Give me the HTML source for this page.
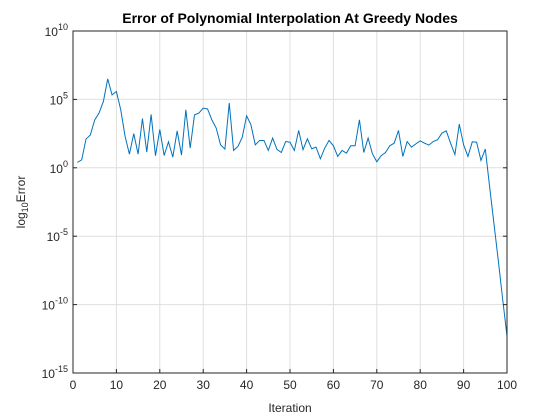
<!DOCTYPE html>
<html><head><meta charset="utf-8"><style>
body{margin:0;background:#fff;}
svg{display:block;font-family:"Liberation Sans",Arial,sans-serif;}
</style></head><body>
<svg id="chart" width="560" height="420">
<rect x="0" y="0" width="560" height="420" fill="#fff"/>
<rect x="73" y="31" width="434" height="342" fill="#fff"/>
<g id="grid"></g>
<g id="series"></g>
<rect x="73" y="31" width="434" height="342" fill="none" stroke="#262626" stroke-width="1"/>
<g id="ticks"></g>
<text x="290" y="23" text-anchor="middle" font-size="14" font-weight="bold" fill="#000">Error of Polynomial Interpolation At Greedy Nodes</text>
<text x="290" y="412" text-anchor="middle" font-size="12" fill="#262626">Iteration</text>
<text transform="translate(25,202) rotate(-90)" text-anchor="middle" font-size="12" fill="#262626">log<tspan font-size="9" dy="3">10</tspan><tspan dy="-3">Error</tspan></text>
</svg>
<script>
const xTicks=[0,10,20,30,40,50,60,70,80,90,100];
const yTickExps=[10,5,0,-5,-10,-15];
const logErr=[0.39,0.58,2.1,2.4,3.5,4.0,4.85,6.5,5.33,5.58,4.24,2.3,1.0,2.5,1.0,3.6,1.15,3.9,0.88,2.8,
0.9,1.9,0.78,2.7,0.93,4.24,1.44,3.87,4.0,4.36,4.3,3.5,2.9,1.68,1.37,4.73,1.27,1.56,2.24,3.8,
3.14,1.68,2.0,2.0,1.27,2.17,1.34,1.12,1.92,1.87,1.27,2.73,1.32,2.12,1.39,1.51,0.66,1.44,2.0,1.61,
0.83,1.27,1.07,1.61,1.61,3.51,1.12,2.17,1.02,0.44,0.88,1.12,1.61,1.8,2.73,0.83,1.92,1.51,1.75,1.97,
1.8,1.66,1.92,2.05,2.53,2.7,1.8,0.97,3.19,1.68,0.83,1.9,1.87,0.54,1.37,-1.4,-4.1,-6.8,-9.6,-12.3];
const NS="http://www.w3.org/2000/svg";
const L=73,R=507,T=31,B=373;
const sx=v=>L+(v-0)/(100-0)*(R-L);
const sy=v=>B-(v-(-15))/(10-(-15))*(B-T);
const grid=document.getElementById('grid'),ticks=document.getElementById('ticks'),ser=document.getElementById('series');
function mk(tag,attrs,parent){const e=document.createElementNS(NS,tag);for(const k in attrs)e.setAttribute(k,attrs[k]);parent.appendChild(e);return e;}
xTicks.forEach(t=>{
  const x=sx(t);
  if(t>0&&t<100){const g=mk('line',{x1:x,x2:x,y1:T,y2:B,stroke:'#dfdfdf','stroke-width':1},grid);
  
  }
  const tk=mk('line',{x1:x,x2:x,y1:B,y2:B-4,stroke:'#262626'},ticks);
  
  
  const lb=mk('text',{x:x,y:B+16,'text-anchor':'middle','font-size':12,fill:'#262626'},ticks);
  lb.textContent=t;
  
  
});
yTickExps.forEach(t=>{
  const y=sy(t);
  if(t<10&&t>-15){const g=mk('line',{x1:L,x2:R,y1:y,y2:y,stroke:'#dfdfdf','stroke-width':1},grid);
  
  }
  const tk=mk('line',{x1:L,x2:L+4,y1:y,y2:y,stroke:'#262626'},ticks);
  
  
  const tk2=mk('line',{x1:R,x2:R-4,y1:y,y2:y,stroke:'#262626'},ticks);
  
  
  const lb=mk('text',{x:L-5,y:y+5,'text-anchor':'end','font-size':12,fill:'#262626'},ticks);
  lb.innerHTML='10<tspan font-size="9" dy="-6">'+t+'</tspan>';
  
  
});
const pts=logErr.map((v,i)=>sx(i+1).toFixed(2)+','+sy(v).toFixed(2)).join(' ');
const pl=mk('polyline',{points:pts,fill:'none',stroke:'#0072bd','stroke-width':1},ser);


</script>
</body></html>
